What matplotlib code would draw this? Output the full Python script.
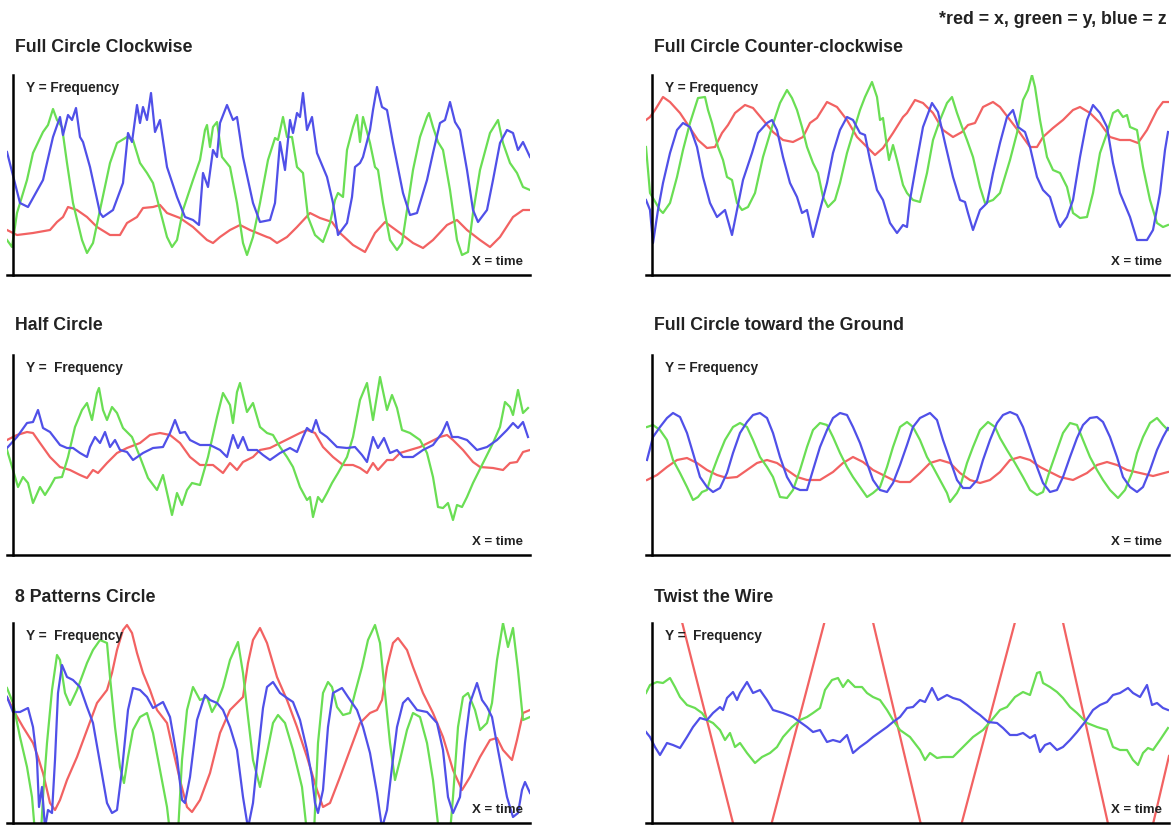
import matplotlib.pyplot as plt
import numpy as np

plt.rcParams['font.family'] = ['Liberation Sans', 'DejaVu Sans']

# sensor traces: (time, frequency) pairs, arbitrary units
cw_red = [(-6, 45), (4, 40), (20, 42), (37, 45), (44, 53), (50, 58), (55, 68), (64, 65), (74, 58), (84, 48),
          (97, 40), (107, 40), (114, 52), (124, 58), (130, 67), (140, 68), (147, 70), (154, 62), (167, 57),
          (180, 48), (194, 35), (200, 32), (207, 38), (217, 45), (227, 50), (237, 45), (254, 38), (257, 37),
          (264, 32), (274, 38), (284, 48), (297, 62), (307, 57), (319, 53), (327, 42), (340, 30), (352, 23),
          (362, 42), (372, 53), (387, 42), (400, 32), (410, 27), (420, 35), (434, 50), (444, 55), (454, 45),
          (467, 35), (477, 28), (487, 38), (500, 58), (510, 65), (517, 65)]
cw_green = [(-6, 35), (-1, 28), (4, 62), (14, 95), (20, 122), (30, 143), (35, 150), (40, 166), (44, 155),
            (49, 148), (54, 112), (60, 72), (69, 35), (74, 22), (80, 32), (87, 65), (97, 112), (104, 132),
            (114, 138), (120, 135), (127, 112), (134, 102), (140, 92), (147, 65), (154, 38), (159, 28),
            (164, 35), (170, 65), (180, 95), (187, 115), (192, 145), (194, 150), (197, 128), (200, 148),
            (204, 153), (209, 118), (217, 108), (224, 72), (230, 32), (234, 20), (240, 38), (247, 72),
            (255, 115), (262, 137), (265, 135), (270, 158), (274, 138), (279, 138), (284, 108), (290, 102),
            (295, 58), (302, 40), (310, 33), (317, 52), (322, 75), (325, 82), (330, 78), (334, 125), (340, 148),
            (344, 160), (347, 133), (350, 158), (357, 132), (362, 108), (365, 105), (370, 72), (377, 35),
            (384, 25), (389, 32), (394, 65), (400, 105), (407, 138), (414, 158), (416, 162), (420, 148),
            (425, 133), (430, 125), (437, 85), (444, 35), (449, 20), (455, 23), (460, 62), (467, 105),
            (477, 142), (485, 155), (490, 132), (497, 112), (504, 102), (510, 88), (517, 85)]
cw_blue = [(-6, 123), (7, 72), (15, 68), (30, 95), (40, 138), (47, 158), (50, 140), (55, 160), (59, 155),
           (63, 167), (67, 138), (70, 133), (77, 108), (87, 62), (90, 58), (100, 65), (110, 92), (115, 142),
           (119, 133), (124, 170), (127, 152), (130, 168), (134, 155), (138, 182), (142, 143), (147, 155),
           (154, 108), (164, 78), (172, 58), (180, 55), (186, 50), (190, 102), (195, 88), (200, 125), (204, 118),
           (207, 152), (214, 170), (220, 155), (224, 158), (230, 118), (240, 72), (247, 53), (257, 55),
           (262, 72), (267, 133), (272, 105), (277, 155), (280, 142), (284, 162), (287, 158), (290, 182),
           (294, 145), (299, 158), (304, 122), (314, 98), (320, 72), (325, 40), (334, 52), (339, 78), (342, 108),
           (347, 112), (350, 118), (357, 145), (360, 165), (364, 188), (369, 168), (374, 165), (380, 132),
           (390, 82), (397, 60), (404, 62), (414, 95), (420, 122), (427, 152), (432, 155), (437, 173),
           (442, 153), (447, 145), (454, 105), (460, 65), (465, 53), (474, 65), (480, 95), (487, 132),
           (494, 145), (500, 142), (505, 125), (510, 133), (517, 118)]

ccw_red = [(-6, 155), (-2, 158), (3, 165), (11, 178), (18, 173), (28, 162), (38, 147), (46, 135), (55, 127),
           (63, 128), (70, 142), (76, 150), (83, 162), (93, 170), (101, 167), (111, 155), (121, 143), (131, 135),
           (141, 133), (151, 138), (158, 152), (165, 157), (175, 173), (185, 168), (195, 155), (205, 138),
           (215, 128), (223, 120), (231, 127), (241, 142), (251, 158), (255, 162), (263, 175), (271, 172),
           (281, 162), (291, 145), (301, 138), (310, 143), (316, 150), (323, 152), (331, 168), (341, 173),
           (348, 168), (358, 155), (368, 142), (378, 128), (385, 128), (391, 138), (401, 147), (411, 155),
           (421, 165), (428, 168), (438, 162), (448, 152), (458, 138), (468, 135), (478, 135), (486, 132),
           (495, 145), (505, 165), (511, 173), (516, 173)]
ccw_green = [(-6, 128), (-2, 82), (8, 65), (11, 62), (18, 72), (25, 98), (31, 125), (38, 152), (46, 177),
             (53, 178), (56, 165), (60, 152), (66, 128), (71, 115), (75, 98), (80, 95), (85, 72), (90, 65),
             (96, 68), (103, 82), (111, 118), (120, 148), (128, 172), (135, 185), (140, 177), (145, 165),
             (150, 148), (155, 128), (161, 112), (166, 102), (171, 78), (176, 68), (183, 75), (188, 92),
             (195, 122), (201, 142), (208, 165), (213, 178), (220, 193), (225, 178), (228, 155), (231, 157),
             (235, 128), (237, 115), (241, 130), (245, 115), (251, 90), (255, 82), (261, 75), (268, 73),
             (275, 102), (281, 135), (288, 155), (295, 172), (300, 178), (305, 162), (310, 148), (315, 135),
             (321, 118), (328, 88), (333, 72), (341, 75), (348, 82), (358, 115), (365, 142), (371, 175),
             (376, 185), (380, 200), (383, 188), (388, 155), (395, 118), (401, 105), (408, 102), (415, 88),
             (421, 62), (428, 57), (435, 58), (441, 82), (448, 122), (455, 142), (461, 162), (466, 165),
             (471, 158), (475, 160), (478, 148), (485, 145), (491, 108), (498, 75), (505, 52), (511, 48),
             (516, 50)]
ccw_blue = [(-6, 75), (-2, 65), (1, 32), (6, 65), (11, 92), (18, 122), (25, 145), (31, 152), (38, 148),
            (45, 128), (51, 98), (58, 72), (65, 58), (73, 65), (80, 40), (85, 65), (91, 95), (100, 122),
            (106, 142), (115, 152), (120, 155), (125, 145), (131, 118), (138, 92), (145, 78), (150, 62),
            (155, 65), (161, 38), (168, 65), (175, 92), (181, 122), (188, 145), (195, 158), (201, 155),
            (208, 142), (213, 140), (218, 115), (225, 85), (231, 75), (238, 52), (245, 42), (251, 50), (255, 48),
            (258, 75), (265, 115), (271, 148), (280, 172), (286, 163), (293, 132), (301, 98), (308, 75),
            (313, 73), (316, 62), (321, 45), (328, 65), (335, 72), (341, 102), (348, 132), (355, 158),
            (361, 165), (366, 148), (373, 143), (378, 128), (385, 98), (391, 85), (398, 78), (405, 55),
            (408, 48), (415, 58), (421, 75), (428, 118), (435, 155), (441, 170), (448, 162), (455, 148),
            (461, 112), (468, 82), (478, 58), (485, 35), (495, 35), (501, 45), (508, 82), (513, 125), (516, 143)]

half_red = [(-6, 115), (4, 120), (14, 123), (20, 122), (27, 112), (37, 98), (47, 88), (57, 85), (67, 80),
            (74, 77), (80, 85), (85, 82), (94, 92), (104, 102), (114, 107), (127, 112), (137, 120), (147, 122),
            (157, 120), (167, 112), (177, 98), (187, 90), (200, 90), (210, 82), (217, 92), (224, 85), (230, 93),
            (240, 98), (247, 105), (257, 107), (267, 112), (277, 117), (287, 122), (294, 125), (302, 122),
            (310, 108), (320, 98), (330, 90), (340, 90), (347, 87), (354, 82), (360, 92), (365, 85), (374, 95),
            (380, 95), (387, 102), (397, 105), (407, 108), (417, 113), (427, 118), (434, 120), (440, 115),
            (450, 105), (460, 93), (467, 88), (480, 87), (490, 85), (497, 92), (504, 93), (510, 103), (517, 105)]
half_green = [(-6, 105), (0, 85), (5, 68), (10, 78), (15, 72), (20, 52), (27, 68), (32, 60), (37, 68),
              (42, 77), (49, 78), (55, 98), (62, 128), (69, 145), (74, 152), (79, 135), (84, 162), (86, 167),
              (90, 145), (94, 135), (99, 148), (104, 142), (110, 127), (119, 118), (127, 98), (135, 77),
              (144, 65), (150, 80), (155, 58), (159, 40), (164, 62), (169, 50), (174, 65), (179, 72), (187, 70),
              (195, 98), (204, 138), (210, 162), (217, 150), (220, 132), (224, 163), (227, 172), (234, 143),
              (240, 152), (247, 128), (254, 122), (260, 120), (267, 108), (274, 98), (280, 88), (287, 68),
              (294, 55), (297, 58), (300, 38), (305, 58), (309, 53), (314, 62), (319, 72), (325, 82), (334, 98),
              (340, 118), (347, 155), (354, 172), (360, 135), (367, 178), (374, 145), (379, 160), (384, 147),
              (389, 125), (397, 122), (407, 115), (414, 102), (420, 78), (425, 48), (430, 47), (435, 52),
              (440, 35), (444, 50), (449, 48), (454, 58), (460, 72), (470, 92), (480, 112), (487, 128),
              (492, 153), (497, 148), (500, 140), (505, 165), (510, 142), (515, 147)]
half_blue = [(-6, 107), (4, 118), (14, 132), (20, 133), (25, 145), (30, 127), (37, 123), (47, 110), (54, 107),
             (60, 107), (67, 102), (74, 98), (77, 108), (82, 118), (87, 112), (92, 123), (97, 108), (102, 115),
             (107, 105), (114, 103), (120, 95), (130, 102), (140, 107), (150, 108), (157, 122), (162, 135),
             (167, 122), (172, 123), (177, 115), (187, 110), (197, 110), (207, 105), (214, 98), (220, 120),
             (225, 107), (230, 118), (235, 105), (244, 105), (250, 100), (257, 95), (267, 102), (277, 107),
             (284, 103), (290, 118), (294, 127), (299, 123), (303, 135), (307, 123), (314, 118), (324, 108),
             (334, 107), (342, 108), (349, 100), (354, 93), (360, 118), (365, 107), (371, 117), (377, 102),
             (384, 105), (390, 98), (400, 98), (410, 105), (420, 110), (429, 122), (434, 133), (439, 118),
             (445, 118), (454, 115), (464, 105), (474, 108), (484, 115), (494, 125), (500, 132), (505, 127),
             (510, 133), (515, 118)]

ground_red = [(-5, 75), (5, 80), (15, 88), (25, 95), (35, 97), (45, 92), (55, 85), (65, 80), (75, 77), (85, 78),
              (95, 85), (105, 92), (115, 95), (125, 92), (135, 85), (145, 78), (155, 75), (168, 75), (181, 83),
              (191, 92), (201, 98), (211, 93), (221, 85), (231, 80), (241, 75), (248, 73), (258, 73), (268, 82),
              (278, 92), (288, 95), (298, 92), (308, 82), (318, 75), (328, 72), (338, 75), (348, 83), (358, 95),
              (368, 98), (378, 95), (388, 88), (398, 83), (408, 78), (421, 75), (435, 82), (445, 90), (455, 93),
              (465, 90), (475, 85), (488, 82), (501, 79), (516, 83)]
ground_green = [(-5, 128), (1, 130), (8, 125), (15, 115), (21, 95), (28, 82), (35, 68), (41, 55), (46, 58),
                (50, 63), (55, 65), (60, 82), (66, 98), (73, 115), (81, 128), (88, 132), (95, 128), (101, 115),
                (108, 98), (115, 88), (121, 78), (128, 58), (135, 57), (141, 65), (148, 85), (155, 108),
                (161, 125), (168, 132), (175, 130), (181, 118), (188, 102), (195, 88), (201, 78), (208, 68),
                (215, 58), (221, 62), (228, 68), (235, 88), (241, 108), (248, 128), (255, 133), (261, 128),
                (268, 115), (275, 98), (281, 88), (288, 75), (295, 62), (298, 53), (305, 62), (308, 68),
                (315, 92), (321, 108), (328, 125), (336, 133), (343, 128), (348, 117), (355, 105), (363, 92),
                (371, 78), (378, 65), (385, 60), (391, 63), (398, 85), (405, 105), (411, 122), (418, 132),
                (425, 130), (431, 115), (438, 98), (445, 85), (451, 75), (458, 65), (466, 57), (473, 65),
                (480, 82), (485, 102), (491, 118), (498, 132), (505, 137), (511, 130), (516, 125)]
ground_blue = [(-5, 95), (1, 118), (8, 128), (15, 137), (21, 142), (28, 138), (35, 122), (41, 102), (48, 78),
               (55, 68), (61, 63), (68, 67), (75, 82), (81, 102), (88, 122), (95, 133), (101, 140), (108, 142),
               (115, 137), (121, 122), (128, 98), (135, 78), (141, 68), (148, 65), (155, 65), (161, 85),
               (168, 108), (175, 125), (181, 137), (188, 142), (195, 140), (201, 128), (208, 112), (215, 92),
               (221, 75), (228, 65), (235, 63), (241, 72), (248, 90), (255, 110), (261, 128), (268, 137),
               (278, 142), (285, 135), (291, 115), (298, 95), (305, 75), (311, 67), (318, 67), (325, 75),
               (331, 95), (338, 115), (345, 132), (351, 140), (358, 143), (365, 140), (371, 128), (378, 108),
               (385, 88), (391, 72), (398, 63), (405, 65), (411, 78), (418, 98), (425, 117), (431, 130),
               (438, 137), (445, 138), (451, 133), (458, 118), (465, 98), (471, 78), (478, 68), (485, 63),
               (491, 68), (498, 85), (505, 105), (511, 118), (516, 127)]

eight_red = [(-6, 126), (2, 110), (10, 96), (20, 80), (25, 66), (29, 53), (30, 50), (34, 33), (37, 20), (42, 13),
             (47, 23), (54, 43), (64, 66), (74, 93), (84, 120), (94, 133), (99, 150), (104, 173), (110, 193),
             (114, 198), (119, 190), (124, 170), (130, 150), (137, 133), (144, 113), (154, 100), (160, 73),
             (167, 43), (174, 16), (179, 11), (187, 23), (197, 50), (207, 90), (217, 113), (224, 120), (230, 126),
             (235, 160), (240, 183), (247, 195), (254, 180), (264, 146), (274, 123), (284, 96), (294, 66),
             (304, 33), (310, 16), (317, 20), (327, 46), (337, 73), (347, 100), (357, 110), (364, 113),
             (369, 123), (374, 156), (380, 180), (385, 185), (394, 173), (400, 156), (410, 130), (420, 110),
             (430, 86), (440, 53), (449, 33), (457, 46), (467, 66), (477, 83), (484, 85), (490, 73), (499, 63),
             (504, 83), (510, 110), (517, 113)]
eight_green = [(-6, 135), (0, 120), (7, 86), (14, 56), (19, 26), (22, -10), (28, -10), (30, 26), (34, 80),
               (39, 133), (44, 168), (47, 163), (52, 130), (57, 118), (64, 133), (74, 160), (80, 173), (87, 183),
               (94, 180), (97, 146), (102, 96), (107, 56), (111, 40), (115, 66), (120, 93), (127, 106), (134, 110),
               (140, 90), (147, 53), (154, 16), (157, -10), (165, -10), (169, 63), (174, 113), (180, 136),
               (187, 123), (194, 126), (199, 111), (204, 120), (210, 136), (217, 163), (225, 181), (230, 150),
               (235, 106), (240, 63), (247, 36), (254, 70), (260, 100), (265, 108), (272, 100), (280, 73),
               (289, 36), (294, -10), (301, -10), (305, 80), (310, 130), (315, 141), (319, 136), (324, 116),
               (330, 108), (337, 110), (342, 130), (349, 156), (355, 183), (362, 198), (367, 180), (372, 130),
               (377, 80), (382, 43), (387, 63), (394, 93), (400, 110), (407, 106), (414, 80), (420, 43),
               (426, -10), (437, -10), (440, 26), (445, 96), (450, 126), (455, 130), (462, 113), (467, 93),
               (474, 100), (479, 120), (484, 163), (490, 200), (495, 176), (500, 195), (505, 153), (510, 103),
               (517, 106)]
eight_blue = [(-6, 126), (0, 111), (7, 111), (15, 115), (20, 96), (24, 63), (26, 16), (29, 36), (32, -5),
              (35, 13), (39, 10), (42, 63), (45, 130), (49, 158), (54, 146), (60, 143), (67, 136), (74, 116),
              (80, 100), (87, 60), (94, 20), (99, 10), (104, 13), (109, 53), (115, 113), (120, 135), (127, 133),
              (134, 126), (140, 115), (150, 121), (157, 106), (164, 66), (169, 23), (172, 20), (177, 46),
              (184, 103), (192, 128), (197, 123), (204, 120), (210, 113), (217, 96), (224, 73), (230, 26),
              (235, -5), (240, 20), (244, 60), (250, 115), (254, 136), (260, 141), (267, 130), (274, 125),
              (280, 121), (287, 103), (294, 73), (299, 46), (302, 20), (305, 10), (310, 33), (315, 96),
              (320, 130), (329, 135), (335, 126), (344, 113), (350, 96), (357, 70), (364, 30), (369, -5),
              (374, 13), (379, 56), (384, 96), (390, 120), (395, 125), (404, 113), (414, 111), (424, 100),
              (430, 73), (435, 26), (440, 10), (447, 26), (452, 80), (457, 120), (464, 140), (469, 123),
              (474, 116), (479, 106), (485, 73), (494, 26), (500, 6), (505, 10), (509, 33), (512, 41), (517, 30)]

twist_red = [(-6, 343), (100, -75), (198, 298), (288, -82), (389, 299), (478, -99), (517, 67)]
twist_green = [(-6, 130), (-2, 138), (5, 141), (11, 140), (18, 145), (23, 136), (28, 126), (35, 118), (43, 115),
               (50, 110), (55, 103), (61, 100), (68, 93), (73, 83), (78, 90), (83, 76), (88, 80), (95, 70),
               (103, 60), (110, 66), (118, 70), (125, 76), (131, 86), (140, 96), (148, 103), (155, 106),
               (161, 110), (168, 115), (173, 133), (180, 143), (186, 145), (191, 136), (196, 143), (203, 136),
               (210, 136), (215, 130), (221, 126), (228, 123), (235, 113), (241, 103), (248, 93), (258, 86),
               (268, 73), (273, 63), (278, 70), (285, 65), (291, 66), (301, 66), (308, 73), (315, 80), (321, 86),
               (331, 93), (338, 101), (348, 113), (355, 116), (363, 126), (371, 131), (378, 128), (385, 150),
               (388, 151), (391, 140), (398, 136), (405, 131), (411, 125), (418, 116), (425, 110), (435, 100),
               (445, 96), (455, 93), (461, 76), (468, 73), (475, 73), (481, 63), (486, 58), (491, 70), (496, 75),
               (501, 73), (508, 83), (516, 95)]
twist_blue = [(-6, 91), (-2, 86), (3, 76), (8, 68), (15, 80), (21, 78), (28, 75), (35, 86), (41, 96), (48, 105),
              (55, 103), (61, 110), (68, 116), (71, 113), (75, 125), (81, 131), (85, 123), (88, 130), (95, 141),
              (101, 130), (108, 133), (115, 123), (121, 113), (131, 110), (141, 106), (148, 101), (155, 96),
              (161, 91), (168, 93), (175, 81), (181, 83), (188, 81), (195, 88), (201, 70), (208, 76), (215, 81),
              (221, 86), (228, 91), (235, 96), (241, 101), (248, 106), (255, 115), (261, 116), (268, 123),
              (273, 121), (280, 135), (286, 123), (295, 128), (301, 125), (308, 123), (315, 118), (321, 113),
              (328, 108), (336, 101), (345, 100), (351, 95), (358, 88), (365, 88), (371, 90), (378, 85),
              (383, 88), (388, 71), (393, 78), (398, 80), (405, 73), (411, 76), (418, 83), (425, 91), (433, 101),
              (441, 113), (448, 118), (455, 121), (461, 128), (468, 130), (476, 135), (481, 130), (488, 126),
              (495, 138), (500, 118), (505, 120), (511, 115), (516, 113)]

titles = ["Full Circle Clockwise", "Full Circle Counter-clockwise", "Half Circle",
          "Full Circle toward the Ground", "8 Patterns Circle", "Twist the Wire"]
y_labels = ["Y = Frequency", "Y = Frequency", "Y =  Frequency",
            "Y = Frequency", "Y =  Frequency", "Y =  Frequency"]
panels = [(cw_red, cw_green, cw_blue), (ccw_red, ccw_green, ccw_blue),
          (half_red, half_green, half_blue), (ground_red, ground_green, ground_blue),
          (eight_red, eight_green, eight_blue), (twist_red, twist_green, twist_blue)]

colors = ['#f26262', '#6ade54', '#5050e8']

W, H = 1172, 827
fig = plt.figure(figsize=(W / 100, H / 100), dpi=100)

# panel geometry in pixels: left edge of axes, axis bottom, title centre
col_left = [7, 646]
row_bottom = [275, 555, 823]
row_title = [47, 325, 597]

for i, (title, ylab, series) in enumerate(zip(titles, y_labels, panels)):
    r, c = divmod(i, 2)
    ax = fig.add_axes([col_left[c] / W, (H - row_bottom[r]) / H, 523 / W, 200 / H])
    for data, col in zip(series, colors):
        t, v = np.array(data).T
        ax.plot(t, v, color=col, lw=1.6, solid_joinstyle='round')
    ax.set_xlim(-6, 517)
    ax.set_ylim(0, 200)
    ax.spines['left'].set_position(('data', 0))
    for s in ['top', 'right']:
        ax.spines[s].set_visible(False)
    for s in ['left', 'bottom']:
        ax.spines[s].set_linewidth(1.8)
        ax.spines[s].set_color('black')
        ax.spines[s].set_zorder(5)
    ax.set_xticks([])
    ax.set_yticks([])
    ax.patch.set_alpha(0)

    ax.text(0.037, 0.935, ylab, transform=ax.transAxes, fontsize=9.8, fontweight='bold',
            color='#222222', va='center', ha='left', zorder=6)
    ax.text(0.986, 0.065, "X = time", transform=ax.transAxes, fontsize=9.5, fontweight='bold',
            color='#222222', va='center', ha='right', zorder=6)
    fig.text((col_left[c] + 8) / W, 1 - row_title[r] / H, title, fontsize=12.8, fontweight='bold',
             color='#222222', va='center', ha='left')

fig.text(1167 / W, 1 - 19 / H, "*red = x, green = y, blue = z", fontsize=12.8, fontweight='bold',
         color='#222222', va='center', ha='right')

fig.savefig('out.png', dpi=100, facecolor='white')
